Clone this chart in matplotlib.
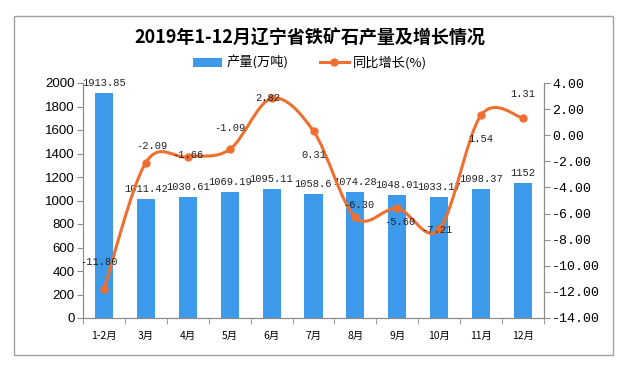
"""
2019年1-12月辽宁省铁矿石产量及增长情况
Bars: 产量 (万吨) on the left axis; smoothed 同比增长 (%) line on the right axis.

Output: out.png (620x365)
"""
from __future__ import annotations

import matplotlib

matplotlib.use("Agg")
import matplotlib.pyplot as plt
from matplotlib.lines import Line2D
from matplotlib.patches import PathPatch, Rectangle
from matplotlib.path import Path
from matplotlib.ticker import FormatStrFormatter, MultipleLocator

MONTHS = ["1-2月", "3月", "4月", "5月", "6月", "7月", "8月", "9月", "10月", "11月", "12月"]
OUTPUT = [1913.85, 1011.42, 1030.61, 1069.19, 1095.11, 1058.6,
          1074.28, 1048.01, 1033.17, 1098.37, 1152]
GROWTH = [-11.80, -2.09, -1.66, -1.09, 2.82, 0.31, -6.30, -5.60, -7.21, 1.54, 1.31]

# label nudges (pixels) for the growth values, to mimic the original placement
GROWTH_OFFSETS = [(-5, 27), (6, 17), (0, 2), (0, 21), (-4, 0), (0, -24),
                  (4, 12), (3, -14), (-2, -1), (0, -24), (0, 24)]

BAR_COLOR = "#3D9AEA"
LINE_COLOR = "#EE7030"
AXIS_GRAY = "#8c8c8c"
CJK = ["Noto Sans CJK SC", "DejaVu Sans"]
MONO = ["Liberation Mono", "DejaVu Sans Mono"]


def _smooth_path(xs, ys) -> Path:
    """Catmull-Rom style cubic Bezier through the points (Excel 'smoothed line')."""
    n = len(xs)
    verts = [(xs[0], ys[0])]
    codes = [Path.MOVETO]
    for i in range(n - 1):
        a, b = max(i - 1, 0), min(i + 2, n - 1)
        c1 = (xs[i] + (xs[i + 1] - xs[a]) / 6, ys[i] + (ys[i + 1] - ys[a]) / 6)
        c2 = (xs[i + 1] - (xs[b] - xs[i]) / 6, ys[i + 1] - (ys[b] - ys[i]) / 6)
        verts += [c1, c2, (xs[i + 1], ys[i + 1])]
        codes += [Path.CURVE4] * 3
    return Path(verts, codes)


def main() -> None:
    plt.rcParams["axes.unicode_minus"] = False
    fig = plt.figure(figsize=(6.2, 3.65), dpi=100)
    fig.patch.set_facecolor("white")

    # outer frame
    fig.patches.append(Rectangle((14 / 620, 10 / 365), 599 / 620, 339 / 365,
                                 transform=fig.transFigure, fill=False,
                                 edgecolor="#a0a0a0", linewidth=1.0))

    ax = fig.add_axes([83 / 620, 1 - 318 / 365, (544 - 83) / 620, (318 - 83) / 365])
    x = list(range(len(MONTHS)))
    ax.bar(x, OUTPUT, width=0.43, color=BAR_COLOR, zorder=2)
    for xi, v in zip(x, OUTPUT):
        ax.annotate(f"{v:g}", (xi, v), xytext=(0, 10), textcoords="offset pixels",
                    ha="center", va="center", fontsize=7.5, family=MONO, color="#222222")

    ax.set_xlim(-0.5, len(MONTHS) - 0.5)
    ax.set_ylim(0, 2000)
    ax.yaxis.set_major_locator(MultipleLocator(200))
    ax.set_xticks(x)
    ax.set_xticklabels(MONTHS, family=CJK, fontsize=7.5)
    ax.set_xticks([i - 0.5 for i in range(len(MONTHS) + 1)], minor=True)
    ax.tick_params(axis="x", which="major", length=0, pad=9)
    ax.tick_params(axis="x", which="minor", length=4, color=AXIS_GRAY, direction="out")
    ax.tick_params(axis="y", length=4, color=AXIS_GRAY, labelsize=9.5, pad=2)
    for lab in ax.get_yticklabels():
        lab.set_family(["Liberation Sans", "DejaVu Sans"])
    for side in ("left", "bottom", "right"):
        ax.spines[side].set_color(AXIS_GRAY)
    ax.spines["top"].set_visible(False)

    ax2 = ax.twinx()
    ax2.set_ylim(-14, 4)
    ax2.yaxis.set_major_locator(MultipleLocator(2))
    ax2.yaxis.set_major_formatter(FormatStrFormatter("%.2f"))
    ax2.tick_params(axis="y", length=4, color=AXIS_GRAY, labelsize=9.5, pad=2)
    for lab in ax2.get_yticklabels():
        lab.set_family(MONO)
    for side in ("left", "bottom", "right"):
        ax2.spines[side].set_color(AXIS_GRAY)
    ax2.spines["top"].set_visible(False)

    ax2.add_patch(PathPatch(_smooth_path(x, GROWTH), fill=False,
                            edgecolor=LINE_COLOR, linewidth=2.2, zorder=3))
    ax2.plot(x, GROWTH, linestyle="none", marker="o", markersize=5,
             color=LINE_COLOR, zorder=4)
    for xi, v, (dx, dy) in zip(x, GROWTH, GROWTH_OFFSETS):
        ax2.annotate(f"{v:.2f}", (xi, v), xytext=(dx, dy), textcoords="offset pixels",
                     ha="center", va="center", fontsize=7.5, family=MONO,
                     color="#222222", zorder=5)

    fig.text(0.5, 1 - 38 / 365, "2019年1-12月辽宁省铁矿石产量及增长情况",
             ha="center", va="center", fontsize=13, fontweight="bold", family=CJK)

    handles = [
        Rectangle((0, 0), 1, 1, facecolor=BAR_COLOR, edgecolor="none"),
        Line2D([], [], color=LINE_COLOR, linewidth=2.2, marker="o", markersize=5),
    ]
    fig.legend(handles, ["产量(万吨)", "同比增长(%)"], loc="center",
               bbox_to_anchor=(0.5, 1 - 63 / 365), ncol=2, frameon=False,
               prop={"family": CJK, "size": 9.5}, handlelength=2.2,
               handletextpad=0.3, columnspacing=2.4)

    fig.savefig("out.png", dpi=100)
    plt.close(fig)


if __name__ == "__main__":
    main()
